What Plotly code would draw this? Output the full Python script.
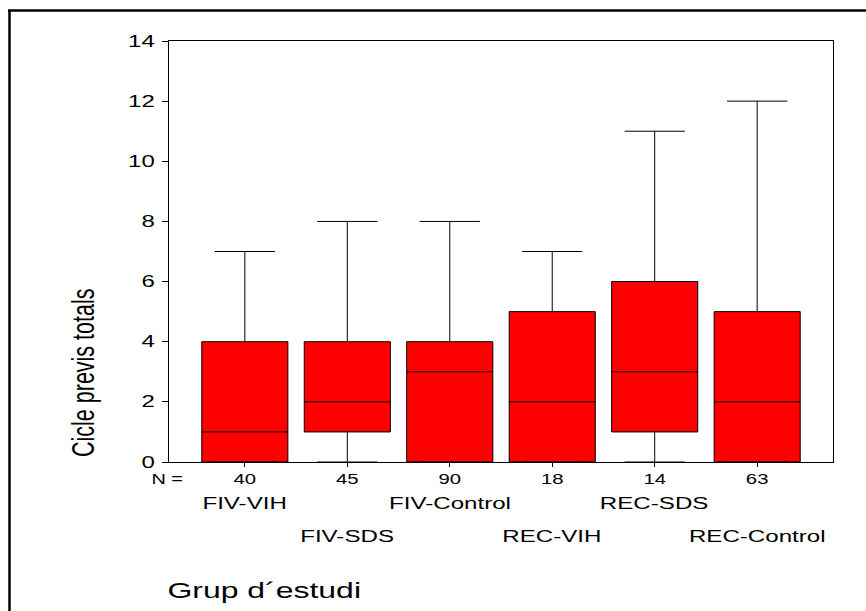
import plotly.graph_objects as go

groups = ["FIV-VIH", "FIV-SDS", "FIV-Control", "REC-VIH", "REC-SDS", "REC-Control"]
n_values = [40, 45, 90, 18, 14, 63]
mins = [0, 0, 0, 0, 0, 0]
q1s = [0, 1, 0, 0, 1, 0]
medians = [1, 2, 3, 2, 3, 2]
q3s = [4, 4, 4, 5, 6, 5]
maxs = [7, 8, 8, 7, 11, 12]
y_ticks = [0, 2, 4, 6, 8, 10, 12, 14]

W, H = 866, 611
L, R, T, B = 169, 33, 41, 149
pw, ph = W - L - R, H - T - B

def px(xp):
    return (xp - L) / pw

def py(yp):
    return (H - B - yp) / ph

pos = list(range(len(groups)))
FONT = "Liberation Sans, Arial, sans-serif"

fig = go.Figure()
fig.add_trace(go.Box(
    x=pos, q1=q1s, median=medians, q3=q3s, lowerfence=mins, upperfence=maxs,
    width=0.84, whiskerwidth=0.7, fillcolor="#FF0000",
    line=dict(color="black", width=1), boxpoints=False, hoverinfo="skip",
    showlegend=False,
))

annotations = []
annotations.append(dict(x=px(167), y=py(479), xref="paper", yref="paper", text="N =",
                        showarrow=False, xanchor="center", yanchor="middle",
                        font=dict(family=FONT, size=14, color="black")))
for i, g in enumerate(groups):
    ypix = 504 if i % 2 == 0 else 536
    annotations.append(dict(x=i, y=py(ypix), xref="x", yref="paper", text=g,
                            showarrow=False, xanchor="center", yanchor="middle",
                            font=dict(family=FONT, size=17, color="black")))
annotations.append(dict(x=px(84), y=py(373), xref="paper", yref="paper",
                        text="Cicle previs totals", textangle=-90, showarrow=False,
                        xanchor="center", yanchor="middle",
                        font=dict(family=FONT, size=21.5, color="black")))
annotations.append(dict(x=px(264), y=py(590), xref="paper", yref="paper",
                        text="Grup d´estudi", showarrow=False,
                        xanchor="center", yanchor="middle",
                        font=dict(family=FONT, size=22.5, color="black")))

shapes = [
    dict(type="line", xref="paper", yref="paper", x0=px(9.5), x1=px(9.5), y0=py(10), y1=py(620),
         line=dict(color="black", width=2.5)),
    dict(type="line", xref="paper", yref="paper", x0=px(8), x1=px(870), y0=py(10.5), y1=py(10.5),
         line=dict(color="black", width=2.5)),
]

fig.update_layout(
    width=W, height=H, margin=dict(l=L, r=R, t=T, b=B, autoexpand=False),
    paper_bgcolor="white", plot_bgcolor="white",
    annotations=annotations, shapes=shapes,
    font=dict(family=FONT, color="black"),
    xaxis=dict(range=[-0.74, 5.74], tickvals=pos, ticktext=[str(n) for n in n_values],
               ticks="outside", ticklen=4, tickcolor="black", showgrid=False, zeroline=False,
               showline=True, linecolor="black", linewidth=1, mirror=True,
               tickfont=dict(family=FONT, size=14, color="black")),
    yaxis=dict(range=[0, 14], tickvals=y_ticks, ticks="outside", ticklen=6, tickcolor="black",
               showgrid=False, zeroline=False, showline=True, linecolor="black", linewidth=1,
               mirror=True, ticklabelstandoff=4,
               tickfont=dict(family=FONT, size=16, color="black")),
)

post = """
document.body.style.margin = '0';
var gd = document.getElementById('{plot_id}');
function stretch(el, s, anchor) {
  var r = el.getBoundingClientRect();
  var ctm = el.parentNode.getScreenCTM();
  var sx = anchor === 'end' ? r.right : (r.left + r.right) / 2;
  var cx = (sx - ctm.e) / ctm.a;
  var t = el.getAttribute('transform') || '';
  el.setAttribute('transform', 'translate(' + cx + ',0) scale(' + s + ',1) translate(' + (-cx) + ',0) ' + t);
}
gd.querySelectorAll('.xtick text').forEach(function(e){ stretch(e, 1.45, 'middle'); });
gd.querySelectorAll('.ytick text').forEach(function(e){ stretch(e, 1.5, 'end'); });
gd.querySelectorAll('g.annotation').forEach(function(e){ stretch(e, 1.42, 'middle'); });
"""

fig.write_html("out.html", post_script=post, config={"displayModeBar": False})
